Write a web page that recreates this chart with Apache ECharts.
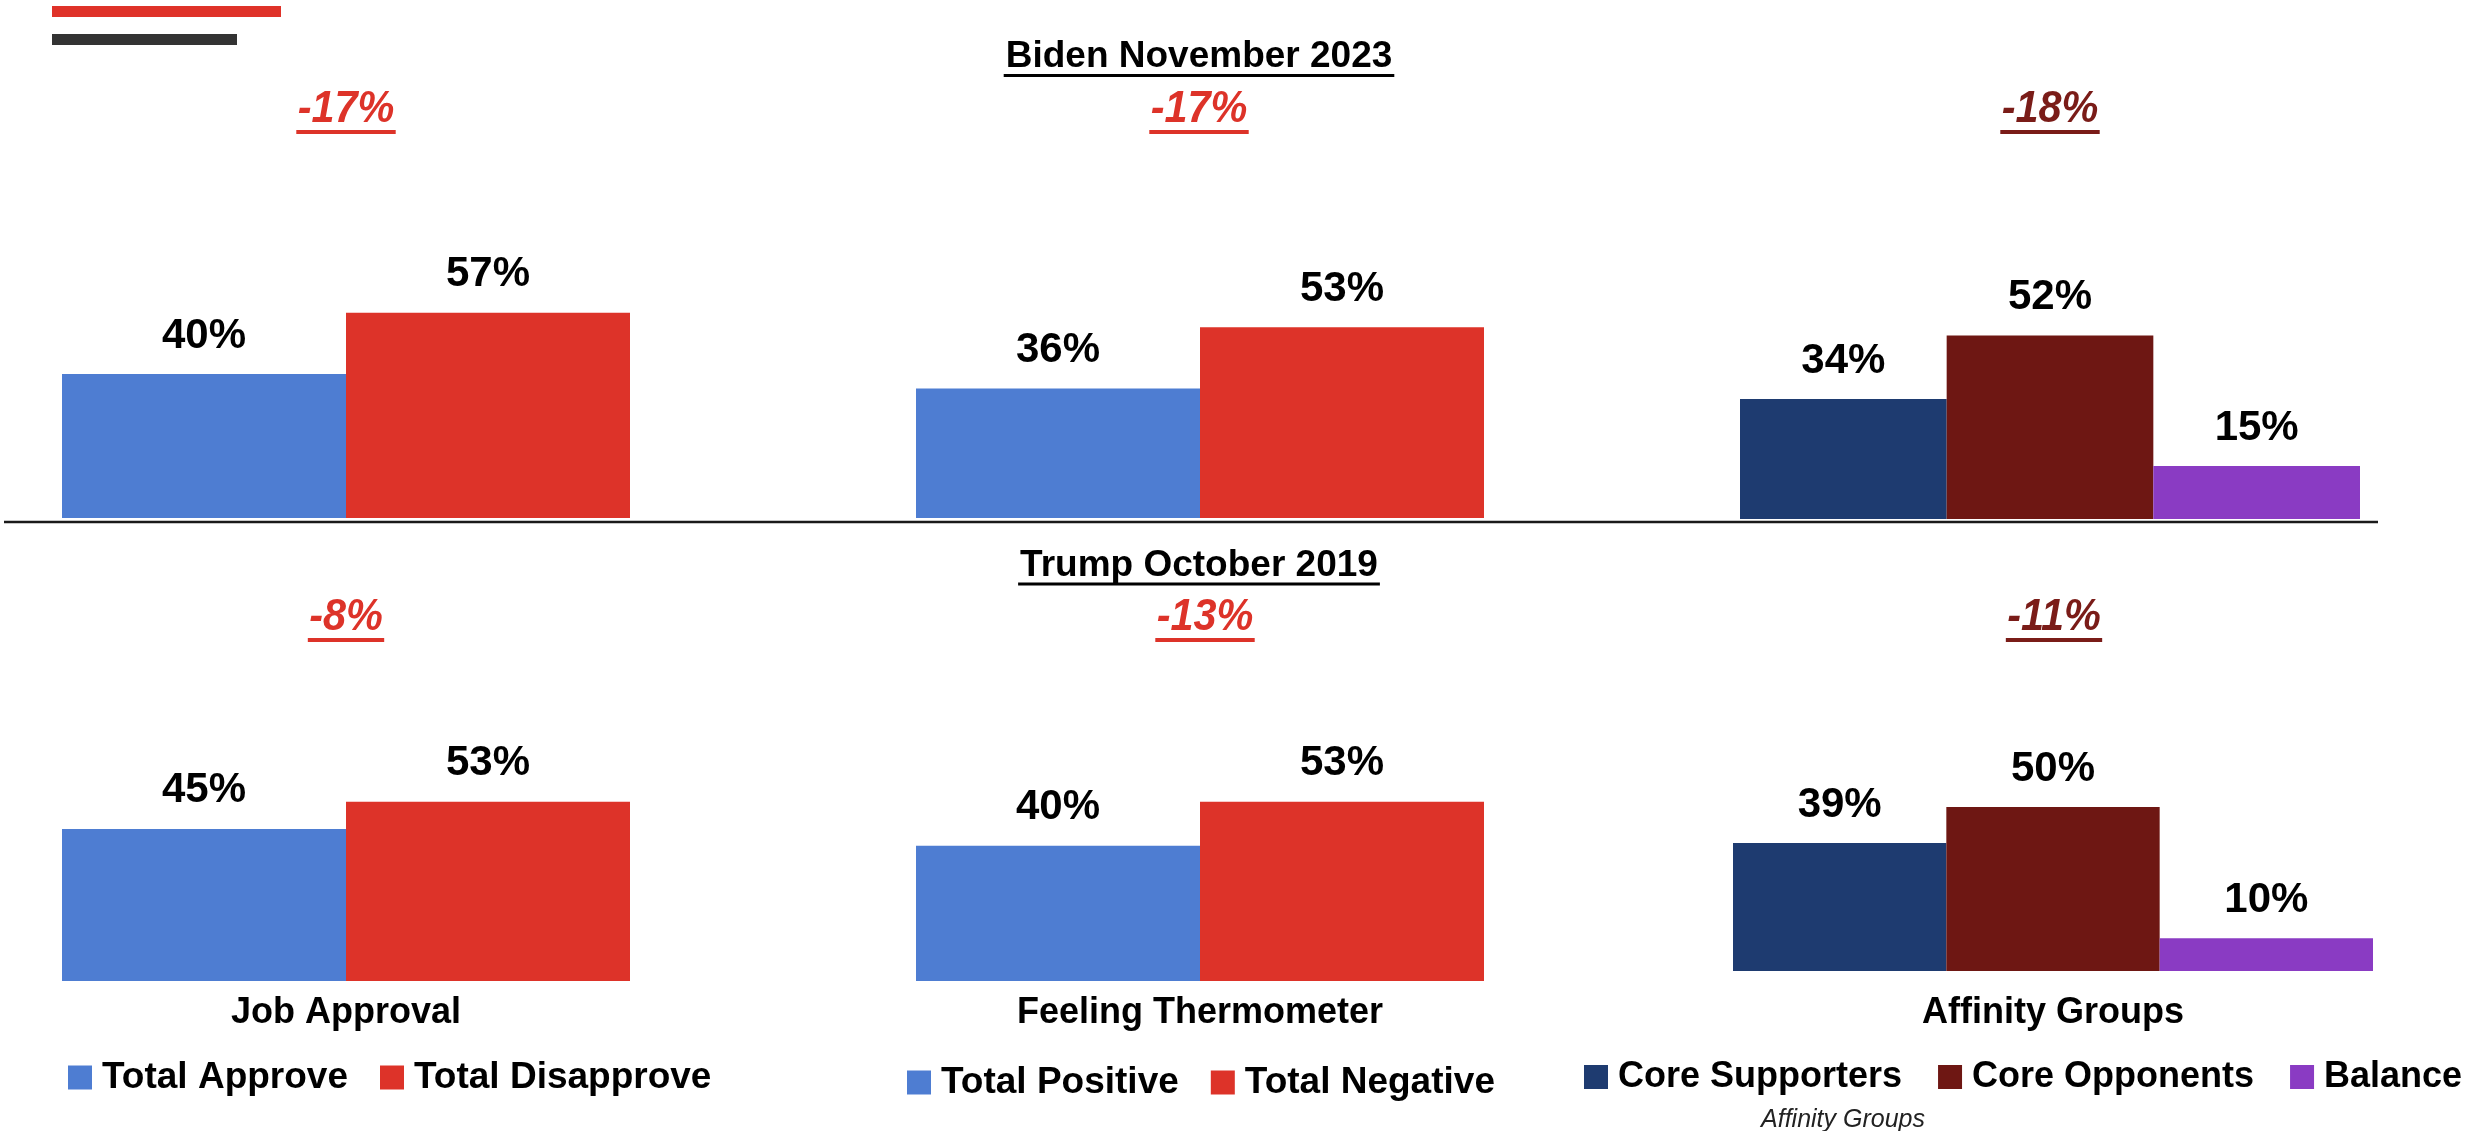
<!DOCTYPE html>
<html>
<head>
<meta charset="utf-8">
<script src="https://cdn.jsdelivr.net/npm/echarts@6/dist/echarts.min.js"></script>
<style>
html,body{margin:0;padding:0;background:#fff;}
#chart{width:2473px;height:1131px;}
</style>
</head>
<body>
<div id="chart"></div>
<script>
// ---- data ----
const categories = ['Job Approval', 'Feeling Thermometer', 'Affinity Groups'];
const periods = ['Biden November 2023', 'Trump October 2019'];
const jobApprovalNames = ['Total Approve', 'Total Disapprove'];
const thermometerNames = ['Total Positive', 'Total Negative'];
const affinityNames = ['Core Supporters', 'Core Opponents', 'Balance'];
const bidenJobApproval = [40, 57];
const bidenThermometer = [36, 53];
const bidenAffinity = [34, 52, 15];
const trumpJobApproval = [45, 53];
const trumpThermometer = [40, 53];
const trumpAffinity = [39, 50, 10];
const axisNote = 'Affinity Groups';

// ---- style / layout ----
const FONT = '"Liberation Sans", Arial, sans-serif';
const colorSets = [
  ['#4E7DD2', '#DD3329'],
  ['#4E7DD2', '#DD3329'],
  ['#1E3B70', '#6E1713', '#8A3BC3']
];
const changeColors = ['#DD3329', '#DD3329', '#7A1C18'];
const nameSets = [jobApprovalNames, thermometerNames, affinityNames];
const values = [
  [bidenJobApproval, bidenThermometer, bidenAffinity],
  [trumpJobApproval, trumpThermometer, trumpAffinity]
];
const layout = [
  [ {left:62, top:158, width:568, height:360}, {left:916, top:158, width:568, height:360}, {left:1740, top:166, width:620, height:353} ],
  [ {left:62, top:643, width:568, height:338}, {left:916, top:643, width:568, height:338}, {left:1733, top:643, width:640, height:328} ]
];
const labelMargins = [14, 14, 24];
const titleY = [57, 565.5];
const changeBase = [125, 633];
const changeX = [[346, 1199, 2050], [346, 1205, 2054]];
const legendLayout = [ {left:68, top:1059, fs:37, gap:32}, {left:907, top:1064, fs:37, gap:32}, {left:1584, top:1059, fs:36, gap:36} ];

const grids = [], xAxes = [], yAxes = [], series = [];
let gi = 0;
for (let r = 0; r < 2; r++) {
  for (let c = 0; c < 3; c++) {
    const L = layout[r][c];
    grids.push({left: L.left, top: L.top, width: L.width, height: L.height, containLabel: false});
    xAxes.push({
      type: 'category', gridIndex: gi, data: [categories[c]],
      axisLine: {show: false}, axisTick: {show: false}, splitLine: {show: false},
      axisLabel: {show: r === 1, margin: labelMargins[c], color: '#000', fontSize: 36, fontWeight: 'bold', fontFamily: FONT}
    });
    yAxes.push({type: 'value', gridIndex: gi, min: 0, max: 100, show: false});
    nameSets[c].forEach((nm, j) => {
      series.push({
        type: 'bar', name: nm, xAxisIndex: gi, yAxisIndex: gi,
        data: [values[r][c][j]],
        barGap: '0%', barCategoryGap: '0%',
        itemStyle: {color: colorSets[c][j]},
        label: {show: true, position: 'top', distance: 17, formatter: '{c}%',
          color: '#000', fontSize: 42, fontWeight: 'bold', fontFamily: FONT},
        emphasis: {disabled: true},
        animation: false
      });
    });
    gi++;
  }
}

const legends = nameSets.map((names, c) => ({
  data: names, left: legendLayout[c].left, top: legendLayout[c].top,
  orient: 'horizontal', icon: 'rect', itemWidth: 24, itemHeight: 24, itemGap: legendLayout[c].gap, padding: 0,
  width: 2473 - legendLayout[c].left,
  selectedMode: false,
  textStyle: {fontSize: legendLayout[c].fs, fontWeight: 'bold', fontFamily: FONT, color: '#000', padding: [0, 0, 0, 5]}
}));

// measure text for underlines
const mctx = document.createElement('canvas').getContext('2d');
function textW(font, t) { mctx.font = font; return mctx.measureText(t).width; }

const graphics = [
  {type: 'rect', shape: {x: 52, y: 6, width: 229, height: 11}, style: {fill: '#DF3229'}},
  {type: 'rect', shape: {x: 52, y: 34, width: 185, height: 11}, style: {fill: '#333333'}},
  {type: 'line', shape: {x1: 4, y1: 522, x2: 2378, y2: 522}, style: {stroke: '#1a1a1a', lineWidth: 2.5}}
];
const titleFont = 'bold 37px ' + FONT;
const CH_FS = 45, CH_SX = 0.92;
const changeFont = 'italic bold ' + CH_FS + 'px ' + FONT;
for (let r = 0; r < 2; r++) {
  const w = textW(titleFont, periods[r]);
  graphics.push({type: 'text', x: 1199, y: titleY[r],
    style: {text: periods[r], font: titleFont, fill: '#000', align: 'center', verticalAlign: 'middle', textAlign: 'center', textVerticalAlign: 'middle'}});
  graphics.push({type: 'rect', shape: {x: 1199 - w / 2 - 2, y: titleY[r] + 17, width: w + 4, height: 3}, style: {fill: '#000'}});
  for (let c = 0; c < 3; c++) {
    const v = values[r][c];
    const diff = v[0] - v[1];
    const t = (diff > 0 ? '+' : '') + diff + '%';
    const cw = (textW(changeFont, t) + 3) * CH_SX;
    const cx = changeX[r][c];
    const cy = changeBase[r] - 0.35 * CH_FS;
    graphics.push({type: 'text', x: cx, y: cy, scaleX: CH_SX,
      style: {text: t, font: changeFont, fill: changeColors[c], align: 'center', verticalAlign: 'middle', textAlign: 'center', textVerticalAlign: 'middle'}});
    graphics.push({type: 'rect', shape: {x: cx - cw / 2, y: changeBase[r] + 5, width: cw, height: 4}, style: {fill: changeColors[c]}});
  }
}
graphics.push({type: 'text', x: 1843, y: 1120,
  style: {text: axisNote, font: 'italic 25px ' + FONT, fill: '#222', align: 'center', verticalAlign: 'middle', textAlign: 'center', textVerticalAlign: 'middle'}});

const chart = echarts.init(document.getElementById('chart'), null, {renderer: 'canvas'});
chart.setOption({
  animation: false,
  backgroundColor: '#fff',
  grid: grids, xAxis: xAxes, yAxis: yAxes, series: series,
  legend: legends,
  graphic: {elements: graphics}
});
</script>
</body>
</html>
